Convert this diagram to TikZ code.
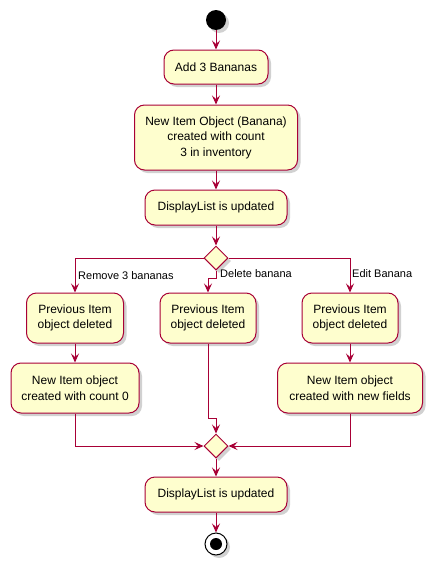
\documentclass[tikz,border=0pt]{standalone}
\usepackage{fontspec}
\setmainfont{Liberation Sans}
\usetikzlibrary{shapes.geometric,arrows.meta,shadows}
\definecolor{puBorder}{HTML}{A80036}
\definecolor{puFill}{HTML}{FEFECE}
\tikzset{
  shd/.style={drop shadow={shadow xshift=3pt,shadow yshift=-3pt,opacity=0.3,fill=black!60}},
  act/.style={draw=puBorder,fill=puFill,line width=1pt,rounded corners=10pt,align=center,
    font=\fontsize{12}{15.5}\selectfont,inner sep=0pt,shd},
  dec/.style={draw=puBorder,fill=puFill,line width=1pt,diamond,minimum width=24pt,minimum height=24pt,inner sep=0pt,shd},
  arr/.style={draw=puBorder,line width=1pt,-{Stealth[length=9pt,width=8pt,inset=3.5pt]}},
  lbl/.style={font=\fontsize{11}{13}\selectfont,anchor=west,inner sep=0pt},
}
\begin{document}
\begin{tikzpicture}[x=1pt,y=-1pt]
\useasboundingbox (0,0) rectangle (438,570);
\node[circle,fill=black,minimum size=20pt,inner sep=0pt,shd] (start) at (216,20) {};
\node[act,minimum width=104pt,minimum height=34pt] (add) at (216,67) {Add 3 Bananas};
\node[act,minimum width=163pt,minimum height=65pt] (newitem) at (216,137.5) {New Item Object (Banana)\\created with count\\3 in inventory};
\node[act,minimum width=142pt,minimum height=35pt] (disp1) at (216,207.5) {DisplayList is updated};
\node[dec] (d1) at (216,258) {};
\node[act,minimum width=97pt,minimum height=50pt] (p1) at (75,318) {Previous Item\\object deleted};
\node[act,minimum width=96pt,minimum height=50pt] (p2) at (208,318) {Previous Item\\object deleted};
\node[act,minimum width=96pt,minimum height=50pt] (p3) at (350,318) {Previous Item\\object deleted};
\node[act,minimum width=128pt,minimum height=50pt] (n1) at (75,388) {New Item object\\created with count 0};
\node[act,minimum width=145pt,minimum height=50pt] (n3) at (350,388) {New Item object\\created with new fields};
\node[dec] (d2) at (216,446) {};
\node[act,minimum width=142pt,minimum height=35pt] (disp2) at (216,494.5) {DisplayList is updated};
\node[circle,draw=black,line width=1pt,fill=white,minimum size=22pt,inner sep=0pt,shd] (endo) at (216,544) {};
\node[circle,fill=black,minimum size=12pt,inner sep=0pt] (endi) at (216,544) {};

\node[lbl] (l1) at (78,276) {Remove 3 bananas};
\node[lbl] (l2) at (220,274) {Delete banana};
\node[lbl] (l3) at (352,274) {Edit Banana};

\draw[arr] (start) -- (add);
\draw[arr] (add) -- (newitem);
\draw[arr] (newitem) -- (disp1);
\draw[arr] (disp1) -- (d1);
\draw[arr] (d1.west) -| (p1.north);
\draw[arr] (d1.east) -| (p3.north);
\draw[arr] (d1.south) -- ++(0,8) -| (p2.north);
\draw[arr] (p1) -- (n1);
\draw[arr] (p3) -- (n3);
\draw[arr] (n1.south) |- (d2.west);
\draw[arr] (n3.south) |- (d2.east);
\draw[arr] (p2.south) -- ++(0,75) -| (d2.north);
\draw[arr] (d2) -- (disp2);
\draw[arr] (disp2) -- (endo);
\end{tikzpicture}
\end{document}
